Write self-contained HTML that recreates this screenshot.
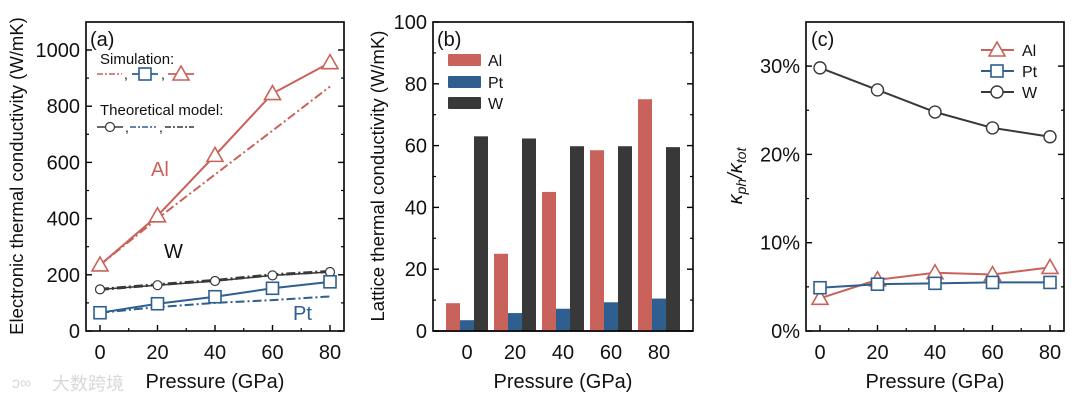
<!DOCTYPE html>
<html><head><meta charset="utf-8">
<style>
html,body{margin:0;padding:0;background:#fff;width:1080px;height:406px;overflow:hidden}
svg{display:block;font-family:"Liberation Sans",Arial,sans-serif}
</style></head>
<body>
<svg id="s" width="1080" height="406" viewBox="0 0 1080 406" xmlns="http://www.w3.org/2000/svg"></svg>
<script>
const pressures=[0,20,40,60,80];
// panel a
const aAlSim=[235,410,625,845,955];
const aAlModel=[235,400,557,713,870];
const aWSim=[148,165,180,200,212];
const aWModel=[148,163,178,198,210];
const aPtSim=[65,97,122,152,175];
const aPtModel=[65,85,100,110,123];
const aYTicks=[0,200,400,600,800,1000];
// panel b
const bAl=[9,25,45,58.5,75];
const bPt=[3.5,5.8,7.2,9.3,10.5];
const bW=[63,62.3,59.8,59.8,59.5];
const bYTicks=[0,20,40,60,80,100];
// panel c
const cAl=[3.7,5.8,6.6,6.4,7.2];
const cPt=[4.9,5.3,5.4,5.5,5.5];
const cW=[29.8,27.3,24.8,23.0,22.0];
const cYTicks=[0,10,20,30];

const RED="#c9625a",BLUE="#2f5f8f",DARK="#383838";
const S=document.getElementById('s');
const NS="http://www.w3.org/2000/svg";
function el(tag,attrs,parent){const e=document.createElementNS(NS,tag);for(const k in attrs)e.setAttribute(k,attrs[k]);(parent||S).appendChild(e);return e;}
function txt(str,attrs,parent){const e=el('text',attrs,parent);e.textContent=str;return e;}

const TOP=22,BOT=331;
function frame(x0,x1,name){
  const g=el('g',{});
  
  
  el('rect',{x:x0,y:TOP,width:x1-x0,height:BOT-TOP,fill:'none',stroke:'#000','stroke-width':1.6},g);
  return g;
}
function yAxis(g,x0,x1,ys,ticks,minors,fmt,name){
  const ax=el('g',{},g);
  
  
  ticks.forEach(v=>{const y=ys(v);
    el('line',{x1:x0,x2:x0+6,y1:y,y2:y,stroke:'#000','stroke-width':1.4},ax);
    el('line',{x1:x1,x2:x1-6,y1:y,y2:y,stroke:'#000','stroke-width':1.4},ax);
    const t=txt(fmt(v),{x:x0-6,y:y+7,'text-anchor':'end','font-size':20,fill:'#111'},ax);
    
    
  });
  minors.forEach(v=>{const y=ys(v);
    el('line',{x1:x0,x2:x0+3,y1:y,y2:y,stroke:'#000','stroke-width':1.2},ax);
    el('line',{x1:x1,x2:x1-3,y1:y,y2:y,stroke:'#000','stroke-width':1.2},ax);
  });
}
function xAxisLine(g,xs,name){
  const ax=el('g',{},g);
  
  
  pressures.forEach(p=>{const x=xs(p);
    el('line',{x1:x,x2:x,y1:BOT,y2:BOT-6,stroke:'#000','stroke-width':1.4},ax);
    const t=txt(String(p),{x:x,y:BOT+28,'text-anchor':'middle','font-size':20,fill:'#111'},ax);
    
    
  });
  [10,30,50,70].forEach(p=>{const x=xs(p);
    el('line',{x1:x,x2:x,y1:BOT,y2:BOT-3,stroke:'#000','stroke-width':1.2},ax);});
}
function xTitle(g,cx,name){
  const t=txt('Pressure (GPa)',{x:cx,y:388,'text-anchor':'middle','font-size':20,fill:'#111'},g);
  
  
}
function yTitle(g,x,str,name,size){
  const t=txt(str,{x:x,y:176,'text-anchor':'middle','font-size':size||16,fill:'#111',transform:`rotate(-90 ${x} 176)`},g);
  
  
  return t;
}
function marker(g,type,x,y,color){
  if(type==='tri') el('polygon',{points:`${x},${y-8} ${x-8},${y+6} ${x+8},${y+6}`,fill:'#fff',stroke:color,'stroke-width':1.6},g);
  else if(type==='sq') el('rect',{x:x-6,y:y-6,width:12,height:12,fill:'#fff',stroke:color,'stroke-width':1.6},g);
  else if(type==='circ') el('circle',{cx:x,cy:y,r:6,fill:'#fff',stroke:color,'stroke-width':1.4},g);
  else if(type==='smallcirc') el('circle',{cx:x,cy:y,r:4.5,fill:'#fff',stroke:color,'stroke-width':1.2},g);
}
function series(g,xs,ys,vals,color,opts,name){
  const sg=el('g',{},g);
  
  
  const pts=vals.map((v,i)=>xs(pressures[i])+','+ys(v)).join(' ');
  const a={points:pts,fill:'none',stroke:color,'stroke-width':opts.w||2};
  if(opts.dash)a['stroke-dasharray']=opts.dash;
  el('polyline',a,sg);
  if(opts.m) vals.forEach((v,i)=>marker(sg,opts.m,xs(pressures[i]),ys(v),color));
}

/* ---------- panel a ---------- */
{
  const x0=86,x1=344;
  const xs=p=>100+(p/80)*230;
  const ys=v=>331-v*0.281;
  const g=frame(x0,x1,'panel-a');
  yAxis(g,x0,x1,ys,aYTicks,[100,300,500,700,900],v=>String(v),'panel-a-y-axis');
  xAxisLine(g,xs,'panel-a-x-axis');
  xTitle(g,215,'panel-a-x-title');
  yTitle(g,23,'Electronic thermal conductivity (W/mK)','panel-a-y-title',18.5);
  series(g,xs,ys,aAlModel,RED,{dash:'9,3,2,3',w:2},'al-model-line');
  series(g,xs,ys,aPtModel,BLUE,{dash:'9,3,2,3',w:2},'pt-model-line');
  series(g,xs,ys,aWSim,DARK,{dash:'9,3,2,3',w:3},'w-dashdot-line');
  series(g,xs,ys,aWModel,DARK,{w:1.5,m:'smallcirc'},'w-circle-line');
  series(g,xs,ys,aPtSim,BLUE,{w:2,m:'sq'},'pt-square-line');
  series(g,xs,ys,aAlSim,RED,{w:2,m:'tri'},'al-triangle-line');
  const lab=(s,x,y,c,n)=>{const t=txt(s,{x:x,y:y,'font-size':20,fill:c},g);};
  lab('(a)',90,46,'#111','panel-a-label');
  lab('Al',151,176,RED,'al-annotation');
  lab('W',164,258,'#111','w-annotation');
  lab('Pt',293,320,BLUE,'pt-annotation');
  const lg=el('g',{},g);
  
  
  txt('Simulation:',{x:100,y:64,'font-size':15,fill:'#111'},lg);
  el('line',{x1:97,x2:122,y1:74,y2:74,stroke:RED,'stroke-width':1.6,'stroke-dasharray':'6,2,2,2'},lg);
  txt(',',{x:124,y:79,'font-size':14,fill:'#111'},lg);
  el('line',{x1:132,x2:158,y1:74,y2:74,stroke:BLUE,'stroke-width':1.8},lg);
  marker(lg,'sq',145,74,BLUE);
  txt(',',{x:161,y:79,'font-size':14,fill:'#111'},lg);
  el('line',{x1:168,x2:194,y1:74,y2:74,stroke:RED,'stroke-width':1.8},lg);
  marker(lg,'tri',181,74,RED);
  txt('Theoretical model:',{x:100,y:115,'font-size':15,fill:'#111'},lg);
  el('line',{x1:97,x2:123,y1:127,y2:127,stroke:DARK,'stroke-width':1.6},lg);
  marker(lg,'smallcirc',110,127,DARK);
  txt(',',{x:125,y:132,'font-size':14,fill:'#111'},lg);
  el('line',{x1:130,x2:156,y1:127,y2:127,stroke:BLUE,'stroke-width':1.6,'stroke-dasharray':'6,2,2,2'},lg);
  txt(',',{x:159,y:132,'font-size':14,fill:'#111'},lg);
  el('line',{x1:165,x2:194,y1:127,y2:127,stroke:DARK,'stroke-width':1.6,'stroke-dasharray':'6,2,2,2'},lg);
}

/* ---------- panel b ---------- */
{
  const x0=433,x1=693;
  const xs=p=>467+(p/80)*192;
  const ys=v=>331-v*3.09;
  const g=frame(x0,x1,'panel-b');
  yAxis(g,x0,x1,ys,bYTicks,[10,30,50,70,90],v=>String(v),'panel-b-y-axis');
  const ax=el('g',{},g);
  
  
  pressures.forEach(p=>{const t=txt(String(p),{x:xs(p),y:BOT+28,'text-anchor':'middle','font-size':20,fill:'#111'},ax);
    
    });
  xTitle(g,563,'panel-b-x-title');
  yTitle(g,384,'Lattice thermal conductivity (W/mK)','panel-b-y-title',18.5);
  const bw=14;
  const groups=[[bAl,RED,-14,'bar-al'],[bPt,BLUE,0,'bar-pt'],[bW,DARK,14,'bar-w']];
  groups.forEach(([arr,c,off,n])=>{
    arr.forEach((v,i)=>{
      const r=el('rect',{x:xs(pressures[i])+off-bw/2,y:ys(v),width:bw,height:ys(0)-ys(v),fill:c},g);
      
      
    });
  });
  el('line',{x1:x0,x2:x1,y1:BOT,y2:BOT,stroke:'#000','stroke-width':1.6},g);
  const t=txt('(b)',{x:437,y:46,'font-size':20,fill:'#111'},g);
  
  
  const lg=el('g',{},g);
  
  
  [['Al',RED,60],['Pt',BLUE,82],['W',DARK,103]].forEach(([s,c,y])=>{
    el('rect',{x:448,y:y-6,width:33,height:12,fill:c,rx:1},lg);
    txt(s,{x:488,y:y+6,'font-size':16,fill:'#111'},lg);
  });
}

/* ---------- panel c ---------- */
{
  const x0=806,x1=1064;
  const xs=p=>820+(p/80)*230;
  const ys=v=>331-v*8.83;
  const g=frame(x0,x1,'panel-c');
  yAxis(g,x0,x1,ys,cYTicks,[5,15,25],v=>v+'%','panel-c-y-axis');
  xAxisLine(g,xs,'panel-c-x-axis');
  xTitle(g,935,'panel-c-x-title');
  const yt=el('text',{x:742,y:176,'text-anchor':'middle','font-size':20,'font-style':'italic',fill:'#111',transform:'rotate(-90 742 176)'},g);
  
  
  yt.innerHTML='κ<tspan font-size="14" dy="4">ph</tspan><tspan dy="-4">/κ</tspan><tspan font-size="14" dy="4">tot</tspan>';
  series(g,xs,ys,cW,DARK,{w:2,m:'circ'},'w-ratio-line');
  series(g,xs,ys,cAl,RED,{w:2,m:'tri'},'al-ratio-line');
  series(g,xs,ys,cPt,BLUE,{w:2,m:'sq'},'pt-ratio-line');
  const t=txt('(c)',{x:811,y:46,'font-size':20,fill:'#111'},g);
  
  
  const lg=el('g',{},g);
  
  
  [['Al',RED,50,'tri'],['Pt',BLUE,71,'sq'],['W',DARK,92,'circ']].forEach(([s,c,y,m])=>{
    el('line',{x1:981,x2:1014,y1:y,y2:y,stroke:c,'stroke-width':2},lg);
    marker(lg,m,997,y,c);
    txt(s,{x:1022,y:y+6,'font-size':16,fill:'#111'},lg);
  });
}

/* watermark */
{
  const w=txt('大数跨境',{x:52,y:390,'font-size':18,fill:'#d8d8d8','font-family':'"Liberation Sans","Noto Sans CJK SC",sans-serif'});
  
  
  const w2=txt('ↄ∞',{x:12,y:388,'font-size':16,fill:'#d8d8d8'});
  
  
}
</script>
</body></html>
